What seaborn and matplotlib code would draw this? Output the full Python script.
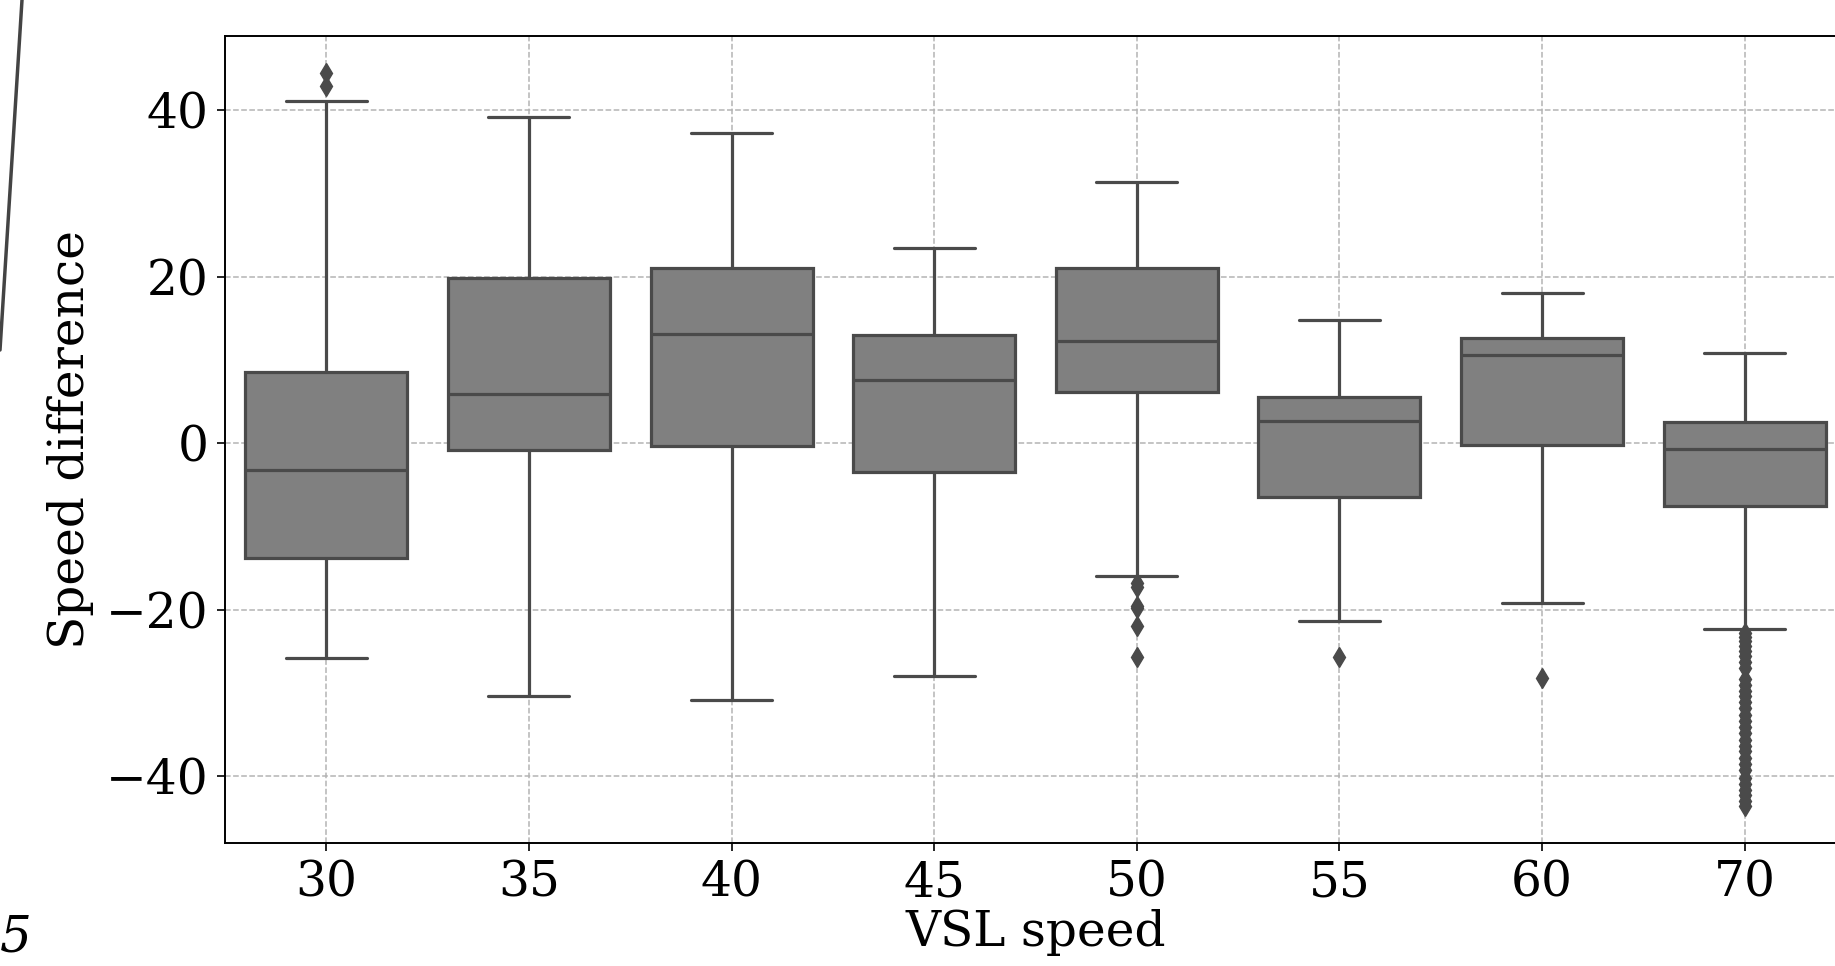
import numpy as np
import pandas as pd
import matplotlib
matplotlib.use("Agg")
import matplotlib.pyplot as plt
from matplotlib.lines import Line2D
import seaborn as sns

# =========================================
# DADOS
# =========================================

vsl = [30, 35, 40, 45, 50, 55, 60, 70]

whis_low = [-25.8, -30.4, -30.8, -27.9, -15.9, -21.3, -19.2, -22.3]
q1 = [-13.8, -0.8, -0.3, -3.4, 6.1, -6.5, -0.2, -7.5]
median = [-3.2, 5.9, 13.1, 7.6, 12.3, 2.7, 10.6, -0.7]
q3 = [8.6, 19.9, 21.0, 13.0, 21.0, 5.6, 12.6, 2.5]
whis_high = [41.1, 39.2, 37.2, 23.5, 31.4, 14.8, 18.0, 10.8]

out_30 = [42.9, 44.5]
out_50 = [-16.8, -17.3, -19.5, -19.8, -22.0, -25.7]
out_55 = [-25.7]
out_60 = [-28.2]
out_70 = [-22.8, -23.3, -23.8, -24.4, -25.0, -25.6, -26.3, -27.0, -28.3,
          -29.0, -29.7, -30.4, -31.1, -31.8, -32.6, -33.4, -34.1, -34.8,
          -35.6, -36.3, -37.0, -37.8, -38.5, -39.2, -40.2, -40.9, -41.6,
          -42.3, -43.0, -43.6]

outliers = {30: out_30, 50: out_50, 55: out_55, 60: out_60, 70: out_70}

# =========================================
# TABELA LONGA PARA O SEABORN
# (cada valor do resumo repetido para fixar os quartis)
# =========================================

k = 100
linhas = []
for i, v in enumerate(vsl):
    for val in [whis_low[i], q1[i], median[i], q3[i], whis_high[i]]:
        linhas.extend([(v, val)] * k)
    for val in outliers.get(v, []):
        linhas.append((v, val))

df = pd.DataFrame(linhas, columns=["VSL speed", "Speed difference"])

# =========================================
# ESTILO
# =========================================

sns.set_theme(style="ticks")
plt.rcParams["font.family"] = ["DejaVu Serif"]

cor_linha = "#4a4a4a"

fig = plt.figure(figsize=(18.35, 9.66), dpi=100)
ax = fig.add_axes([225 / 1835, 1 - 843 / 966, (1846 - 225) / 1835, (843 - 36) / 966])

sns.boxplot(
    data=df,
    x="VSL speed",
    y="Speed difference",
    order=vsl,
    color="gray",
    saturation=1,
    width=0.8,
    linecolor=cor_linha,
    linewidth=2.3,
    whis=1.5,
    flierprops=dict(
        marker="d",
        markerfacecolor=cor_linha,
        markeredgecolor=cor_linha,
        markersize=10,
    ),
    ax=ax,
)

ax.set_yticks([-40, -20, 0, 20, 40])
ax.grid(True, linestyle="--", color="#b4b4b4", linewidth=1.1)
ax.set_axisbelow("line")

for lado in ["left", "bottom", "top", "right"]:
    ax.spines[lado].set_color("black")
    ax.spines[lado].set_linewidth(1.4)

ax.tick_params(axis="both", labelsize=35, length=6, width=1.2, pad=6,
               color="black", labelcolor="black")
ax.set_xlabel("VSL speed", fontsize=35, color="black", labelpad=2)
ax.set_ylabel("Speed difference", fontsize=35, color="black", labelpad=8)

# restos do recorte da figura original
fig.add_artist(Line2D([22 / 1835, 0], [1, 1 - 350 / 966],
                      transform=fig.transFigure, color="#444444", lw=2.5))
fig.text(0, 1 - 952 / 966, "5", fontsize=36, style="italic",
         ha="left", va="baseline", color="black")

fig.savefig("out.png", dpi=100)
